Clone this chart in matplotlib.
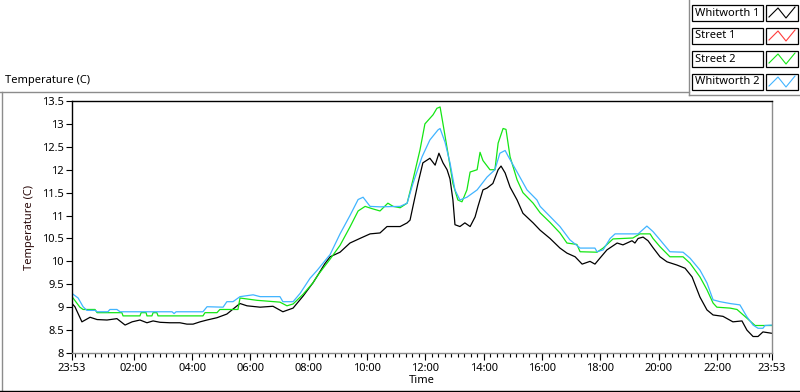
import matplotlib
matplotlib.use("Agg")
import matplotlib.pyplot as plt
from matplotlib.lines import Line2D
from matplotlib.patches import Rectangle

# hours after 23:53 start, temperature in C
w1_t = [0.00, 0.10, 0.34, 0.62, 0.86, 1.20, 1.54, 1.82, 2.06, 2.33, 2.57, 2.78, 3.02, 3.36,
        3.70, 3.94, 4.15, 4.39, 4.63, 4.97, 5.31, 5.66, 5.76, 6.00, 6.45, 6.89, 7.23, 7.58,
        7.92, 8.26, 8.43, 8.67, 8.85, 9.19, 9.53, 9.87, 10.22, 10.56, 10.80, 11.25, 11.49,
        11.59, 11.69, 11.86, 12.03, 12.27, 12.45, 12.58, 12.72, 12.86, 12.96, 13.06, 13.13,
        13.30, 13.47, 13.65, 13.82, 13.92, 14.09, 14.23, 14.43, 14.61, 14.71, 14.85, 15.02,
        15.26, 15.46, 15.81, 16.05, 16.39, 16.73, 16.97, 17.25, 17.49, 17.76, 17.93, 18.10,
        18.34, 18.69, 18.89, 19.20, 19.30, 19.41, 19.58, 19.75, 19.92, 20.16, 20.40, 20.74,
        21.02, 21.26, 21.53, 21.77, 21.98, 22.32, 22.66, 22.97, 23.14, 23.35, 23.52, 23.69,
        24.00]
w1_v = [9.08, 9.01, 8.68, 8.78, 8.73, 8.72, 8.75, 8.61, 8.68, 8.72, 8.66, 8.70, 8.67, 8.66,
        8.66, 8.63, 8.63, 8.68, 8.72, 8.77, 8.85, 9.03, 9.08, 9.03, 9.00, 9.02, 8.90, 8.98,
        9.24, 9.53, 9.70, 9.95, 10.10, 10.20, 10.40, 10.50, 10.60, 10.62, 10.76, 10.76, 10.84,
        10.90, 11.20, 11.70, 12.15, 12.25, 12.10, 12.36, 12.15, 12.00, 11.80, 11.34, 10.80,
        10.76, 10.84, 10.76, 10.97, 11.20, 11.56, 11.60, 11.70, 12.00, 12.08, 11.93, 11.62,
        11.34, 11.05, 10.84, 10.68, 10.50, 10.29, 10.18, 10.10, 9.94, 10.00, 9.94, 10.07,
        10.25, 10.40, 10.36, 10.45, 10.40, 10.50, 10.53, 10.45, 10.30, 10.10, 9.99, 9.92,
        9.85, 9.66, 9.22, 8.94, 8.83, 8.80, 8.68, 8.70, 8.50, 8.36, 8.36, 8.46,
        8.43]

s1_t = []
s1_v = []

s2_t = [0.00, 0.27, 0.38, 0.79, 0.86, 1.71, 1.75, 2.33, 2.37, 2.54, 2.57, 2.74, 2.78, 2.91,
        2.95, 4.49, 4.56, 4.97, 5.07, 5.69, 5.76, 6.34, 7.13, 7.37, 7.58, 7.92, 8.26, 8.43,
        8.85, 9.19, 9.53, 9.81, 10.05, 10.29, 10.56, 10.83, 11.01, 11.25, 11.49, 11.69,
        11.93, 12.10, 12.38, 12.51, 12.62, 12.72, 12.89, 13.06, 13.23, 13.37, 13.54, 13.65,
        13.89, 13.99, 14.09, 14.33, 14.50, 14.61, 14.78, 14.88, 15.02, 15.26, 15.46, 15.81,
        16.05, 16.39, 16.73, 16.97, 17.31, 17.42, 18.00, 18.21, 18.55, 19.23, 19.47, 19.82,
        19.92, 20.16, 20.50, 20.95, 21.19, 21.53, 21.77, 21.98, 22.11, 22.56, 22.80, 23.14,
        23.42, 24.00]
s2_v = [9.23, 9.00, 8.95, 8.95, 8.88, 8.88, 8.81, 8.81, 8.88, 8.88, 8.81, 8.81, 8.88, 8.88,
        8.81, 8.81, 8.88, 8.88, 8.95, 8.95, 9.20, 9.15, 9.11, 9.03, 9.07, 9.28, 9.53, 9.70,
        10.05, 10.35, 10.75, 11.10, 11.20, 11.15, 11.10, 11.27, 11.20, 11.17, 11.27, 11.78,
        12.43, 13.00, 13.20, 13.34, 13.37, 13.00, 12.36, 11.70, 11.34, 11.30, 11.56, 11.95,
        12.00, 12.38, 12.20, 12.00, 12.00, 12.58, 12.90, 12.88, 12.28, 11.78, 11.50, 11.27,
        11.06, 10.85, 10.62, 10.40, 10.37, 10.21, 10.20, 10.29, 10.49, 10.51, 10.60, 10.60,
        10.50, 10.32, 10.10, 10.10, 9.96, 9.66, 9.38, 9.09, 9.00, 8.98, 8.95, 8.76,
        8.60, 8.60]

w2_t = [0.00, 0.21, 0.38, 0.51, 0.79, 0.86, 1.23, 1.30, 1.54, 1.65, 3.43, 3.50, 3.57, 4.49,
        4.63, 5.18, 5.31, 5.52, 5.76, 6.21, 6.45, 7.13, 7.23, 7.58, 7.82, 8.16, 8.40, 8.85,
        9.19, 9.53, 9.81, 9.98, 10.22, 10.56, 11.25, 11.49, 11.69, 12.00, 12.27, 12.55, 12.62,
        12.79, 12.96, 13.13, 13.30, 13.54, 13.89, 14.23, 14.50, 14.67, 14.85, 14.95, 15.26,
        15.60, 15.94, 16.05, 16.39, 16.73, 17.07, 17.42, 17.93, 18.00, 18.21, 18.45, 18.62,
        19.41, 19.71, 19.92, 20.16, 20.50, 20.95, 21.19, 21.53, 21.77, 21.98, 22.22, 22.56,
        22.90, 23.14, 23.35, 23.52, 23.69, 23.76, 24.00]
w2_v = [9.30, 9.20, 9.01, 8.93, 8.93, 8.90, 8.90, 8.95, 8.95, 8.90, 8.90, 8.86, 8.90, 8.90,
        9.01, 9.00, 9.12, 9.12, 9.23, 9.27, 9.23, 9.23, 9.12, 9.12, 9.30, 9.63, 9.80, 10.15,
        10.60, 11.00, 11.35, 11.40, 11.20, 11.19, 11.20, 11.27, 11.70, 12.28, 12.65, 12.87, 12.90,
        12.60, 12.15, 11.56, 11.34, 11.40, 11.56, 11.84, 12.00, 12.36, 12.42, 12.30, 11.95,
        11.56, 11.34, 11.20, 10.98, 10.76, 10.47, 10.29, 10.29, 10.21, 10.25, 10.50, 10.60,
        10.60, 10.77, 10.65, 10.47, 10.21, 10.20, 10.07, 9.81, 9.53, 9.16, 9.12, 9.08,
        9.05, 8.79, 8.61, 8.54, 8.54, 8.60, 8.61]

names = ["Whitworth 1", "Street 1", "Street 2", "Whitworth 2"]
colors = ["#000000", "#ff3c3c", "#14e614", "#40b4ff"]
series = [(w1_t, w1_v), (s1_t, s1_v), (s2_t, s2_v), (w2_t, w2_v)]

x_ticks = [0.0, 2.1167, 4.1167, 6.1167, 8.1167, 10.1167, 12.1167, 14.1167,
           16.1167, 18.1167, 20.1167, 22.1167, 24.0]
x_labels = ["23:53", "02:00", "04:00", "06:00", "08:00", "10:00", "12:00", "14:00",
            "16:00", "18:00", "20:00", "22:00", "23:53"]
y_ticks = [8, 8.5, 9, 9.5, 10, 10.5, 11, 11.5, 12, 12.5, 13, 13.5]

plt.rcParams['font.family'] = ['Noto Sans', 'DejaVu Sans']
FS = 8
W, H = 800, 392

def fx(px):
    return px / W

def fy(py):
    return 1 - py / H

fig = plt.figure(figsize=(8, 3.92), dpi=100)
ax = fig.add_axes([fx(72), fy(353), 700 / W, 252 / H])

for (t, v), c in zip(series, colors):
    ax.plot(t, v, color=c, lw=0.9)

ax.set_xlim(0, 24)
ax.set_ylim(8, 13.5)
ax.set_xticks(x_ticks)
ax.set_xticklabels(x_labels)
minor = [2.1167 + k * 0.2222 for k in range(-9, 99) if 0 < 2.1167 + k * 0.2222 < 24]
ax.set_xticks(minor, minor=True)
ax.set_yticks(y_ticks)
ax.set_yticklabels([f"{v:g}" for v in y_ticks])
ax.tick_params(axis='both', which='major', labelsize=FS, length=5, width=0.8,
               color='black', pad=2)
ax.tick_params(axis='x', which='minor', length=3, width=0.8, color='black')
ax.tick_params(axis='y', length=4)

ax.spines['top'].set_color('black')
ax.spines['left'].set_color('black')
ax.spines['right'].set_color('#8c8c8c')
ax.spines['bottom'].set_color('#8c8c8c')
for s in ax.spines.values():
    s.set_linewidth(1.0)

ax.set_xlabel("Time", fontsize=FS, labelpad=1)
ax.set_ylabel("Temperature (C)", fontsize=FS, labelpad=5, color='#2a0a0a')

# outer chart frame
fig.add_artist(Line2D([fx(0), fx(689)], [fy(92), fy(92)], color='#8c8c8c', lw=1))
fig.add_artist(Line2D([fx(2), fx(2)], [fy(92), fy(392)], color='#8c8c8c', lw=1))
fig.add_artist(Line2D([fx(0), fx(800)], [fy(390.5), fy(390.5)], color='black', lw=1))
fig.text(fx(5), fy(80), "Temperature (C)", fontsize=FS, va='center', ha='left')

# legend panel
fig.add_artist(Line2D([fx(689), fx(689)], [fy(0), fy(95)], color='#8c8c8c', lw=1))
fig.add_artist(Line2D([fx(689), fx(800)], [fy(95), fy(95)], color='#8c8c8c', lw=1))
row_y = [13, 36, 59, 82]
for name, c, yc in zip(names, colors, row_y):
    fig.add_artist(Rectangle((fx(692), fy(yc + 8)), 71 / W, 16 / H, facecolor='white',
                             edgecolor='black', lw=0.9))
    fig.add_artist(Rectangle((fx(766), fy(yc + 8)), 32 / W, 16 / H, facecolor='white',
                             edgecolor='black', lw=0.9))
    fig.text(fx(695), fy(yc), name, fontsize=FS, va='center', ha='left')
    fig.add_artist(Line2D([fx(769), fx(778), fx(786), fx(795)],
                          [fy(yc + 4), fy(yc - 5), fy(yc + 5), fy(yc - 6)], color=c, lw=0.8))

fig.savefig("out.png", dpi=100)
